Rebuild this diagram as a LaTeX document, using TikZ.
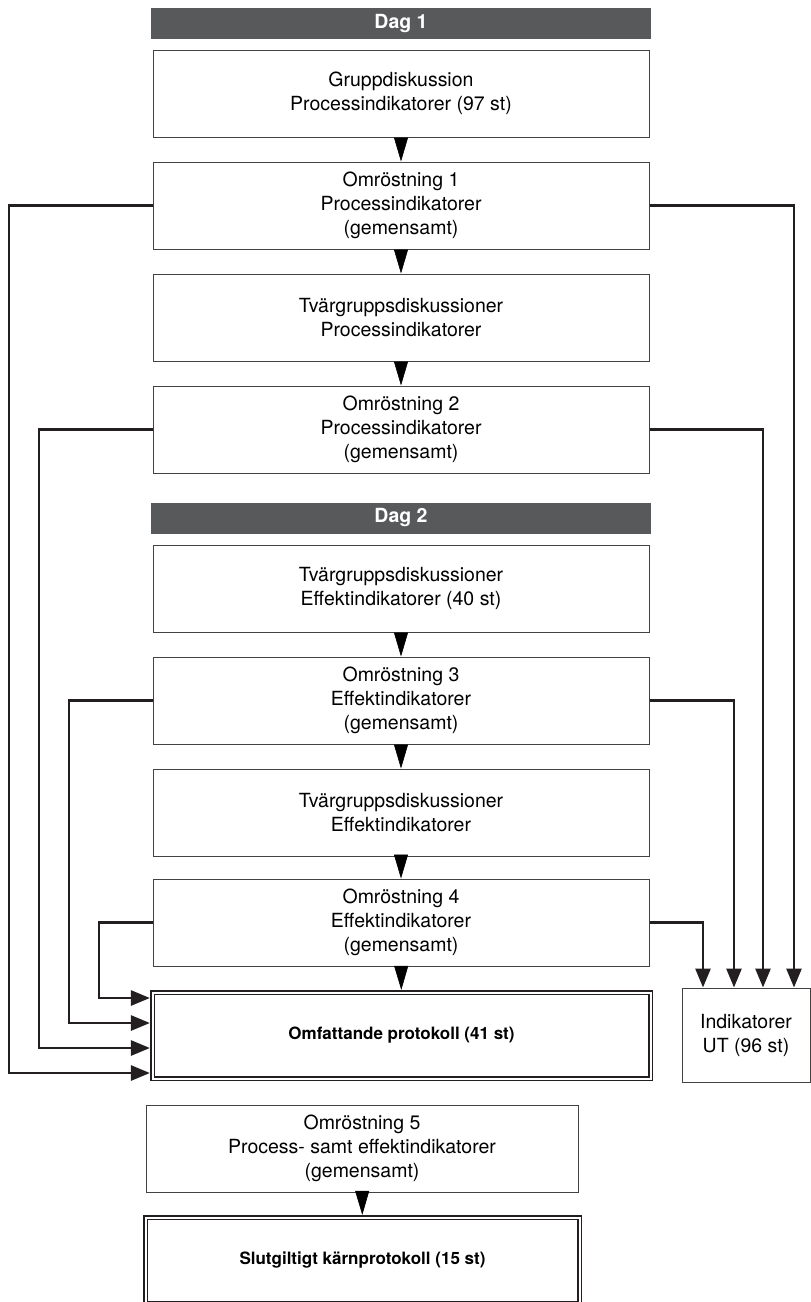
\documentclass[tikz,border=0pt]{standalone}
\usepackage{fontspec}
\setmainfont{TeX Gyre Heros}
\usetikzlibrary{arrows.meta}
\definecolor{hdrgray}{RGB}{88,89,91}
\definecolor{inkblack}{RGB}{35,31,32}
\newcommand{\boxfont}{\fontsize{19.5}{24}\selectfont}
\newcommand{\protfont}{\fontsize{17}{22}\selectfont\bfseries}
\tikzset{
  stepbox/.style={draw=inkblack!85, line width=1pt, rectangle, align=center,
    minimum width=496pt, minimum height=87pt, inner sep=0pt},
  dagbar/.style={fill=hdrgray, text=white, font=\boxfont\bfseries, rectangle,
    minimum width=500pt, minimum height=31pt, inner sep=0pt},
  protbox/.style={draw=inkblack, line width=1.6pt, double, double distance=2pt,
    rectangle, align=center, font=\protfont, minimum width=498pt,
    minimum height=86pt, inner sep=0pt, outer sep=2.6pt},
  flow/.style={line width=0.6pt, -{Triangle[length=24pt,width=14pt]}},
  conn/.style={draw=inkblack, line width=2.8pt, -{Triangle[length=19pt,width=15pt]}}
}
\begin{document}
\begin{tikzpicture}[x=1pt, y=-1pt, every node/.style={font=\boxfont}]
    \useasboundingbox (0,0) rectangle (811,1302);
    \clip (0,0) rectangle (811,1302);

    % Dag 1
    \node[dagbar] (dag1) at (401,23.5) {Dag 1};
    \node[stepbox] (grupp) at (401,93.5) {Gruppdiskussion\\Processindikatorer (97 st)};
    \node[stepbox] (omr1) at (401,205.5) {Omröstning 1\\Processindikatorer\\(gemensamt)};
    \node[stepbox] (tvg1) at (401,317.5) {Tvärgruppsdiskussioner\\Processindikatorer};
    \node[stepbox] (omr2) at (401,429.5) {Omröstning 2\\Processindikatorer\\(gemensamt)};

    % Dag 2
    \node[dagbar] (dag2) at (401,518) {Dag 2};
    \node[stepbox] (tvg2) at (401,588.5) {Tvärgruppsdiskussioner\\Effektindikatorer (40 st)};
    \node[stepbox] (omr3) at (401,700.5) {Omröstning 3\\Effektindikatorer\\(gemensamt)};
    \node[stepbox] (tvg3) at (401,812.5) {Tvärgruppsdiskussioner\\Effektindikatorer};
    \node[stepbox] (omr4) at (401,922.5) {Omröstning 4\\Effektindikatorer\\(gemensamt)};

    % Protocols
    \node[protbox] (omf) at (401.5,1035.5) {Omfattande protokoll (41 st)};
    \node[stepbox, minimum width=432pt] (omr5) at (362,1148.5) {Omröstning 5\\Process- samt effektindikatorer\\(gemensamt)};
    \node[protbox, minimum width=434pt] (slut) at (362.5,1260.5) {Slutgiltigt kärnprotokoll (15 st)};
    \node[stepbox, minimum width=128pt, minimum height=94pt] (ind) at (746,1035) {Indikatorer\\UT (96 st)};

    % Main flow
    \draw[flow] (grupp) -- (omr1);
    \draw[flow] (omr1) -- (tvg1);
    \draw[flow] (tvg1) -- (omr2);
    \draw[flow] (tvg2) -- (omr3);
    \draw[flow] (omr3) -- (tvg3);
    \draw[flow] (tvg3) -- (omr4);
    \draw[flow] (omr4) -- (omf);
    \draw[flow] (omr5) -- (slut);

    % Side routes to the protocol
    \coordinate (l1) at (9,1073);
    \coordinate (l2) at (39,1048);
    \coordinate (l3) at (69,1023);
    \coordinate (l4) at (99,998);
    \draw[conn] (omr1.west) -| (l1) -- (l1 -| omf.west);
    \draw[conn] (omr2.west) -| (l2) -- (l2 -| omf.west);
    \draw[conn] (omr3.west) -| (l3) -- (l3 -| omf.west);
    \draw[conn] (omr4.west) -| (l4) -- (l4 -| omf.west);

    % Side routes out
    \coordinate (r1) at (794,0);
    \coordinate (r2) at (763,0);
    \coordinate (r3) at (734,0);
    \coordinate (r4) at (703,0);
    \draw[conn] (omr1.east) -| (r1 |- ind.north);
    \draw[conn] (omr2.east) -| (r2 |- ind.north);
    \draw[conn] (omr3.east) -| (r3 |- ind.north);
    \draw[conn] (omr4.east) -| (r4 |- ind.north);
\end{tikzpicture}
\end{document}
